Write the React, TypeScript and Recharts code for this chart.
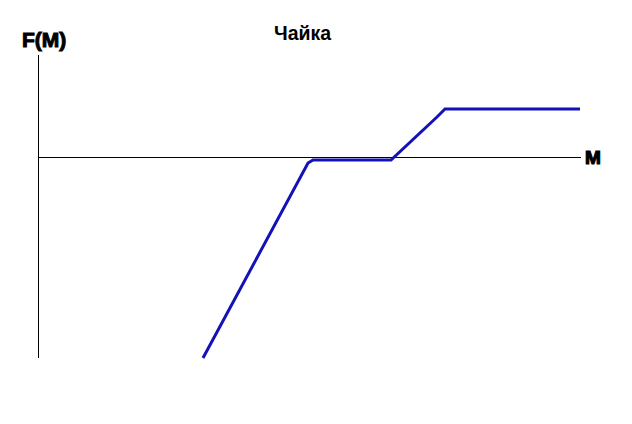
import React from 'react';
import { LineChart, Line, XAxis, YAxis, ReferenceLine } from 'recharts';

const mValues = [165, 270, 275, 353, 399, 407, 542];
const fValues = [-201, -6, -3, -3, 40, 48, 48];
const xDomain = [0, 543];
const yDomain = [-201, 102];

const data = mValues.map((m, i) => ({ m, f: fValues[i] }));

const heavy: React.CSSProperties = {
  position: 'absolute',
  fontFamily: '"Liberation Sans", Arial, sans-serif',
  fontWeight: 700,
  color: '#000',
  whiteSpace: 'nowrap',
  lineHeight: 1,
};

export default function App() {
  return (
    <div style={{ position: 'relative', width: 616, height: 408 }}>
      <LineChart
        width={616}
        height={408}
        data={data}
        margin={{ top: 47, right: 43, bottom: 58, left: 30 }}
      >
        <XAxis type="number" dataKey="m" domain={xDomain} hide />
        <YAxis type="number" domain={yDomain} hide />
        <ReferenceLine y={0} stroke="#000" strokeWidth={1} shapeRendering="crispEdges" />
        <ReferenceLine x={0} stroke="#000" strokeWidth={1} shapeRendering="crispEdges" />
        <Line
          type="linear"
          dataKey="f"
          stroke="#1212b8"
          strokeWidth={3}
          dot={false}
          isAnimationActive={false}
        />
      </LineChart>
      <div style={{ ...heavy, left: 266, top: 16, fontSize: 19.5 }}>Чайка</div>
      <div style={{ ...heavy, left: 14, top: 21, fontSize: 21, WebkitTextStroke: '1px #000' }}>F(M)</div>
      <div style={{ ...heavy, left: 577, top: 140, fontSize: 19, WebkitTextStroke: '1.2px #000' }}>M</div>
    </div>
  );
}
